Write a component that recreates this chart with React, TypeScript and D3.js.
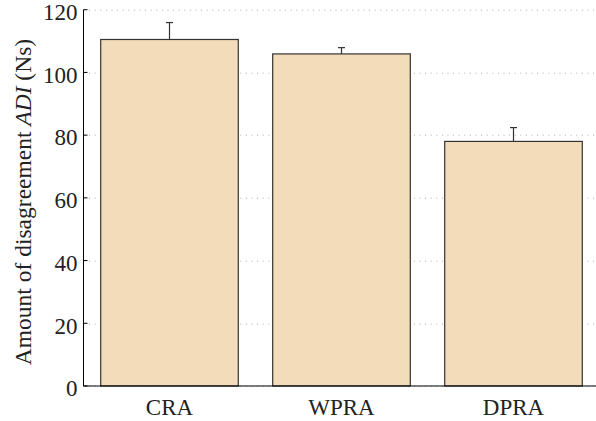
import { useEffect, useRef } from 'react';
import * as d3 from 'd3';

const categories = ['CRA', 'WPRA', 'DPRA'];
const means = [110.5, 105.9, 78.0];
const errors = [5.4, 2.0, 4.4];
const yTicks = [0, 20, 40, 60, 80, 100, 120];

export default function App() {
    const svgRef = useRef<SVGSVGElement>(null);

    useEffect(() => {
        if (!svgRef.current) return;
        const svg = d3.select(svgRef.current);
        svg.selectAll('*').remove();

        const margin = { left: 83.5, top: 9.7 };
        const innerWidth = 516;
        const innerHeight = 376.3;
        const font = 'Liberation Serif';

        const x = d3.scaleBand().domain(categories).range([0, innerWidth]).paddingInner(0.2).paddingOuter(0.1);
        const y = d3.scaleLinear().domain([0, 120]).range([innerHeight, 0]);

        const g = svg.append('g').attr('transform', `translate(${margin.left},${margin.top})`);

        // dotted grid
        g.selectAll('.grid')
            .data(yTicks)
            .join('line')
            .attr('x1', 0)
            .attr('x2', innerWidth)
            .attr('y1', d => Math.round(y(d)) + 0.5)
            .attr('y2', d => Math.round(y(d)) + 0.5)
            .attr('stroke', '#aaa')
            .attr('stroke-width', 1)
            .attr('stroke-dasharray', '1,4.6');

        // bars
        g.selectAll('.bar')
            .data(categories)
            .join('rect')
            .attr('x', d => x(d)!)
            .attr('y', (d, i) => y(means[i]))
            .attr('width', x.bandwidth())
            .attr('height', (d, i) => innerHeight - y(means[i]))
            .attr('fill', '#f2dcba')
            .attr('stroke', '#333')
            .attr('stroke-width', 1.2);

        // error bars (upper only)
        const cap = 3.5;
        categories.forEach((c, i) => {
            const cx = x(c)! + x.bandwidth() / 2;
            g.append('line')
                .attr('x1', cx).attr('x2', cx)
                .attr('y1', y(means[i])).attr('y2', y(means[i] + errors[i]))
                .attr('stroke', '#333').attr('stroke-width', 1.2);
            g.append('line')
                .attr('x1', cx - cap).attr('x2', cx + cap)
                .attr('y1', y(means[i] + errors[i])).attr('y2', y(means[i] + errors[i]))
                .attr('stroke', '#333').attr('stroke-width', 1.2);
        });

        // axes
        g.append('line')
            .attr('x1', 0).attr('x2', 0)
            .attr('y1', 0).attr('y2', innerHeight)
            .attr('stroke', '#000').attr('stroke-width', 1);
        g.append('line')
            .attr('x1', 0).attr('x2', innerWidth)
            .attr('y1', innerHeight).attr('y2', innerHeight)
            .attr('stroke', '#000').attr('stroke-width', 1);

        g.selectAll('.ytick')
            .data(yTicks)
            .join('line')
            .attr('x1', 0).attr('x2', 4)
            .attr('y1', d => y(d)).attr('y2', d => y(d))
            .attr('stroke', '#000');

        g.selectAll('.ylab')
            .data(yTicks)
            .join('text')
            .attr('x', -6)
            .attr('y', d => y(d))
            .attr('dy', '0.45em')
            .attr('text-anchor', 'end')
            .attr('font-family', font)
            .attr('font-size', 23)
            .attr('fill', '#222')
            .text(d => d);

        g.selectAll('.xlab')
            .data(categories)
            .join('text')
            .attr('x', d => x(d)! + x.bandwidth() / 2)
            .attr('y', innerHeight + 29)
            .attr('text-anchor', 'middle')
            .attr('font-family', font)
            .attr('font-size', 23)
            .attr('fill', '#222')
            .text(d => d);

        const label = svg.append('text')
            .attr('transform', `translate(31,202) rotate(-90)`)
            .attr('text-anchor', 'middle')
            .attr('font-family', font)
            .attr('font-size', 23.5)
            .attr('fill', '#222');
        label.append('tspan').text('Amount of disagreement ');
        label.append('tspan').attr('font-style', 'italic').text('ADI');
        label.append('tspan').text(' (Ns)');
    }, []);

    return (
        <svg ref={svgRef} width={596} height={421} style={{ position: 'absolute', left: 0, top: 0, background: '#fff' }}></svg>
    );
}
